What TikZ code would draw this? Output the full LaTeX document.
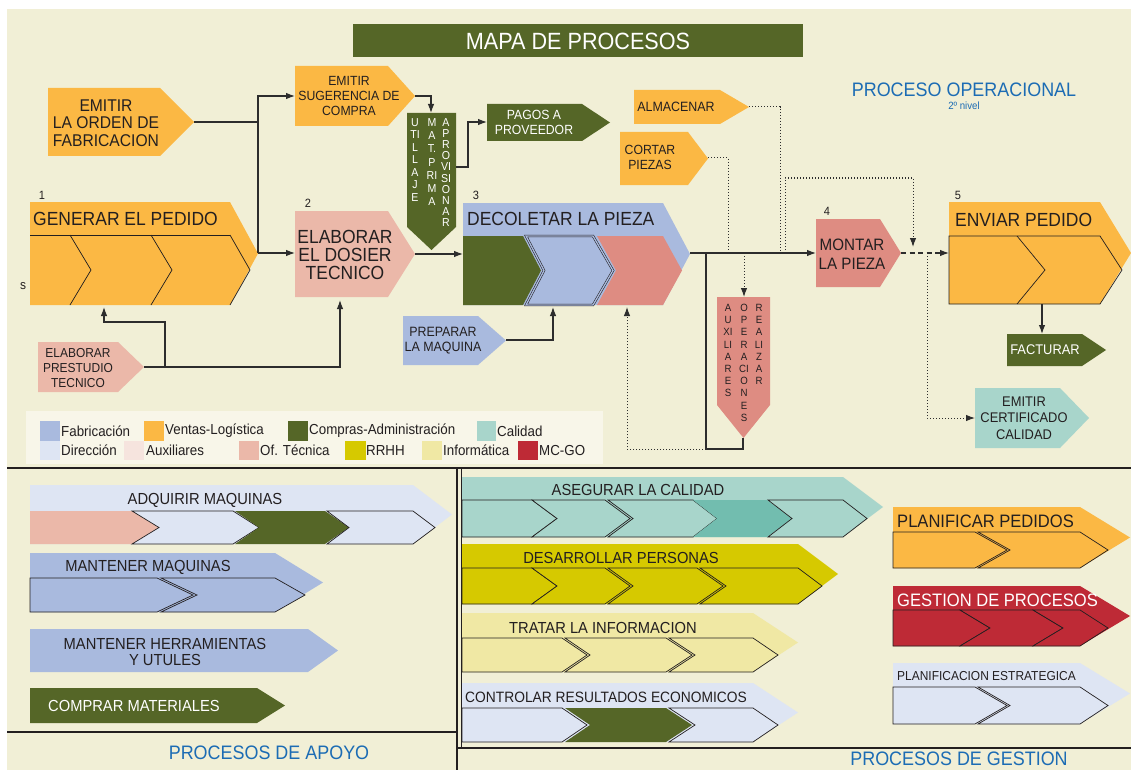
\documentclass[tikz,border=0pt]{standalone}
\usepackage{fontspec}
\setmainfont{Liberation Sans}[FakeStretch=0.92]
\usetikzlibrary{arrows.meta}
\definecolor{bgc}{RGB}{241,239,214}
\definecolor{legbg}{RGB}{248,246,233}
\definecolor{ventas}{RGB}{251,184,68}
\definecolor{fabr}{RGB}{169,186,222}
\definecolor{compras}{RGB}{85,102,39}
\definecolor{calidad}{RGB}{168,213,203}
\definecolor{calidadd}{RGB}{114,189,175}
\definecolor{direc}{RGB}{222,229,243}
\definecolor{auxil}{RGB}{246,228,222}
\definecolor{oftec}{RGB}{235,184,169}
\definecolor{rrhh}{RGB}{214,201,0}
\definecolor{infor}{RGB}{240,232,164}
\definecolor{mcgo}{RGB}{190,42,54}
\definecolor{salmon}{RGB}{222,140,130}
\definecolor{ink}{RGB}{35,31,32}
\definecolor{bluet}{RGB}{28,108,180}
\definecolor{lineC}{RGB}{45,45,45}
\newcommand\pent[6]{\fill[#1] (#2,#3) -- (#4,#3) -- (#5,{(#3+#6)/2}) -- (#4,#6) -- (#2,#6) -- cycle;}
\newcommand\chev[7]{\path[#1] (#2,#5) -- (#3,#5) -- (#4,{(#5+#6)/2}) -- (#3,#6) -- (#2,#6) -- (#7,{(#5+#6)/2}) -- cycle;}
\tikzset{
  conn/.style={draw=lineC, line width=1.1pt},
  arr/.style={-{Latex[length=9pt,width=6.5pt]}},
  dots/.style={draw=lineC, line width=1pt, dash pattern=on 1.4pt off 1.6pt},
  dashs/.style={draw=lineC, line width=1.1pt, dash pattern=on 5pt off 3.5pt},
  ol/.style={draw=ink, line width=0.7pt},
  dbl/.style={draw=ink, line width=0.55pt, double=#1, double distance=1.3pt},
  txt/.style 2 args={font=\fontsize{#1}{#2}\selectfont, text=ink, align=center, inner sep=0pt},
  leg/.style={font=\fontsize{14.5}{15}\selectfont, text=ink, anchor=west, inner sep=0pt},
  frame/.style={draw=ink, line width=2pt},
}
\begin{document}
\begin{tikzpicture}[x=1pt,y=-1pt]
\useasboundingbox (0,0) rectangle (1131,770);
\fill[white] (0,0) rectangle (1131,770);
\fill[bgc] (7,9) rectangle (1131,770);

% title
\fill[compras] (353,24) rectangle (803,57);
\node[txt={23.5}{24}, text=white] (title) at (578,41) {MAPA DE PROCESOS};
\node[txt={19.5}{20}, text=bluet] (procop) at (964,90) {PROCESO OPERACIONAL};
\node[txt={10.5}{11}, text=bluet] (nivel) at (964,106) {2º nivel};

% ---------- operational shapes
\pent{ventas}{48}{88}{160}{194}{156}
\node[txt={17}{17.5}] (orden) at (106,123) {EMITIR\\LA ORDEN DE\\FABRICACION};
\pent{ventas}{295}{66}{388}{415}{126}
\node[txt={13.3}{15}] (sug) at (349,96) {EMITIR\\SUGERENCIA DE\\COMPRA};
\fill[compras] (407,113) -- (456,113) -- (456,227) -- (431.5,250) -- (407,227) -- cycle;
\node[txt={11.5}{12.5}, text=white, anchor=north] (utA) at (415,118) {U\\TI\\L\\L\\A\\J\\E};
\node[txt={11.5}{13.3}, text=white, anchor=north] (utB) at (432,118) {M\\A\\T.\\P\\RI\\M\\A};
\node[txt={11.5}{11.2}, text=white, anchor=north] (utC) at (446,118) {A\\P\\R\\O\\VI\\SI\\O\\N\\A\\R};
\pent{compras}{487}{104}{582}{610}{141}
\node[txt={13.3}{15}, text=white] (pagos) at (534,122) {PAGOS A\\PROVEEDOR};
\pent{ventas}{634}{90}{720}{749}{124}
\node[txt={13.5}{15}] (alm) at (676,107) {ALMACENAR};
\pent{ventas}{620}{132}{688}{708}{185}
\node[txt={13.3}{15}] (cortar) at (650,157) {CORTAR\\PIEZAS};

% 1 generar
\node[txt={12}{12}] (n1) at (42,195) {1};
\pent{ventas}{30}{202}{230}{258}{305}
\draw[ol] (30,235) -- (230,235);
\draw[ol] (70,235) -- (91,270) -- (70,305);
\draw[ol] (151,235) -- (172,270) -- (151,305);
\draw[ol] (230,235) -- (250,270) -- (230,305);
\node[txt={19}{20}, anchor=west] (gen) at (33,219) {GENERAR EL PEDIDO};
\node[txt={13}{13}] (s) at (23,286) {s};

% 2 dosier
\node[txt={12}{12}] (n2) at (308,203) {2};
\pent{oftec}{295}{211}{388}{415}{297}
\node[txt={19}{18}] (dosier) at (345,255) {ELABORAR\\EL DOSIER\\TECNICO};
\pent{oftec}{38}{342}{118}{144}{392}
\node[txt={13}{15}] (prest) at (78,368) {ELABORAR\\PRESTUDIO\\TECNICO};
\pent{fabr}{403}{316}{478}{506}{365}
\node[txt={13.5}{15}] (prep) at (443,341) {PREPARAR\\LA MAQUINA};

% 3 decoletar
\node[txt={12}{12}] (n3) at (476,195) {3};
\pent{fabr}{463}{203}{663}{690}{305}
\chev{fill=compras}{463}{523}{541}{236}{305}{463}
\chev{fill=fabr,dbl=fabr}{526}{593}{613}{236}{305}{544}
\chev{fill=salmon}{597}{663}{682}{236}{305}{616}
\node[txt={19}{20}, anchor=west] (dec) at (467,219) {DECOLETAR LA PIEZA};

% realizar
\fill[salmon] (717,297) -- (770,297) -- (770,405) -- (743.5,438) -- (717,405) -- cycle;
\node[txt={10.5}{12.2}, anchor=north] (raA) at (728,304) {A\\U\\XI\\LI\\A\\R\\E\\S};
\node[txt={10.5}{12.2}, anchor=north] (raB) at (744,304) {O\\P\\E\\R\\A\\CI\\O\\N\\E\\S};
\node[txt={10.5}{12.2}, anchor=north] (raC) at (759,304) {R\\E\\A\\LI\\Z\\A\\R};

% 4 montar
\node[txt={12}{12}] (n4) at (827,211) {4};
\pent{salmon}{816}{219}{880}{901}{287}
\node[txt={16.5}{19}] (montar) at (852,254) {MONTAR\\LA PIEZA};

% 5 enviar
\node[txt={12}{12}] (n5) at (958,195) {5};
\pent{ventas}{949}{202}{1100}{1131}{304}
\chev{ol}{949}{1100}{1122}{236}{304}{949}
\draw[ol] (1017,236) -- (1045,270) -- (1017,304);
\node[txt={19}{20}, anchor=west] (env) at (955,220) {ENVIAR PEDIDO};
\pent{compras}{1007}{334}{1082}{1106}{366}
\node[txt={14}{15}, text=white] (fact) at (1045,350) {FACTURAR};
\pent{calidad}{975}{388}{1060}{1089}{448}
\node[txt={14}{16.5}] (cert) at (1024,418) {EMITIR\\CERTIFICADO\\CALIDAD};

% ---------- connector points
\coordinate (ordenTip) at (194,122);
\coordinate (jMid) at (258,122);
\coordinate (jTop) at (258,96);
\coordinate (genTip) at (258,253);
\coordinate (sugW) at (295,96);
\coordinate (dosW) at (295,253);
\coordinate (sugTip) at (415,96);
\coordinate (utilN) at (431,113);
\coordinate (utilE) at (456,167);
\coordinate (pagW) at (487,122);
\coordinate (dosTip) at (415,254);
\coordinate (decW) at (463,254);
\coordinate (preTip) at (144,367);
\coordinate (preJ) at (165,367);
\coordinate (dosS) at (340,300);
\coordinate (genS) at (104,307);
\coordinate (prepTip) at (506,340);
\coordinate (decS1) at (553,307);
\coordinate (decTip) at (690,253);
\coordinate (monW) at (816,253);
\coordinate (brA) at (706,253);
\coordinate (brB) at (706,449);
\coordinate (realS) at (743,438);
\coordinate (auxJ) at (744,253);
\coordinate (realN) at (744,297);
\coordinate (decS2) at (627,307);
\coordinate (almTip) at (749,107);
\coordinate (almJ) at (780,253);
\coordinate (corTip) at (708,158);
\coordinate (corJ) at (728,253);
\coordinate (loopJ) at (785,253);
\coordinate (loopT) at (913,247);
\coordinate (monTip) at (901,253);
\coordinate (envW) at (949,253);
\coordinate (certJ) at (927,253);
\coordinate (certW) at (975,418);
\coordinate (envS) at (1042,304);
\coordinate (facN) at (1042,334);

\draw[conn] (ordenTip) -- (jMid);
\draw[conn,arr] (genTip) -- (jTop) -- (sugW);
\draw[conn,arr] (genTip) -- (dosW);
\draw[conn,arr] (sugTip) -| (utilN);
\draw[conn,arr] (utilE) -- ++(12,0) |- (pagW);
\draw[conn,arr] (dosTip) -- (decW);
\draw[conn,arr] (preTip) -| (dosS);
\draw[conn,arr] (preJ) -- ++(0,-45) -| (genS);
\draw[conn,arr] (prepTip) -| (decS1);
\draw[conn,arr] (decTip) -- (monW);
\draw[conn] (brA) -- (brB) -| (realS);
\draw[dots,arr] (brB) -| (decS2);
\draw[dots,arr] (auxJ) -- (realN);
\draw[dots] (almTip) -| (almJ);
\draw[dots] (corTip) -| (corJ);
\draw[dots,arr] (loopJ) -- ++(0,-75) -| (loopT);
\draw[dashs,arr] (monTip) -- (envW);
\draw[dots,arr] (certJ) |- (certW);
\draw[conn,arr] (envS) -- (facN);

% ---------- legend
\fill[legbg] (26,411) rectangle (603,464);
\fill[fabr] (40,421) rectangle (60,441);   \node[leg] (lg1) at (61,431) {Fabricación};
\fill[ventas] (144,421) rectangle (164,441); \node[leg] (lg2) at (165,431) {Ventas-Logística};
\fill[compras] (288,421) rectangle (308,441); \node[leg] (lg3) at (309,431) {Compras-Administración};
\fill[calidad] (477,421) rectangle (496,441); \node[leg] (lg4) at (497,431) {Calidad};
\fill[direc] (40,441) rectangle (60,460);   \node[leg] (lg5) at (61,450.5) {Dirección};
\fill[auxil] (124,441) rectangle (144,460); \node[leg] (lg6) at (146,450.5) {Auxiliares};
\fill[oftec] (239,441) rectangle (259,460); \node[leg] (lg7) at (260,450.5) {Of. Técnica};
\fill[rrhh] (345,441) rectangle (366,460); \node[leg] (lg8) at (366,450.5) {RRHH};
\fill[infor] (422,441) rectangle (442,460); \node[leg] (lg9) at (443,450.5) {Informática};
\fill[mcgo] (518,441) rectangle (538,460); \node[leg] (lg10) at (539,450.5) {MC-GO};

% ---------- frames
\draw[frame] (7,468) -- (1131,468);
\draw[frame] (457,468) -- (457,770);
\draw[frame] (7,732) -- (457,732);
\draw[frame] (457,748) -- (1131,748);
\draw[draw=ink, line width=0.8pt] (461,469) -- (461,747);

% ---------- apoyo
\pent{direc}{30}{485}{413}{452}{544}
\chev{fill=oftec}{30}{132}{159}{511}{544}{30}
\chev{fill=direc,ol}{132}{233}{259}{511}{544}{159}
\chev{fill=compras}{235}{325}{349}{511}{544}{259}
\chev{fill=direc,ol}{327}{413}{435}{511}{544}{349}
\node[txt={16}{16}] (adq) at (205,500) {ADQUIRIR MAQUINAS};

\pent{fabr}{30}{553}{275}{323}{612}
\chev{fill=fabr,ol}{30}{157}{193}{578}{612}{30}
\chev{fill=fabr,ol}{161}{275}{305}{578}{612}{197}
\node[txt={16}{16}] (mmaq) at (148,567) {MANTENER MAQUINAS};

\pent{fabr}{30}{629}{308}{338}{672}
\node[txt={16}{16}] (mher) at (165,652) {MANTENER HERRAMIENTAS\\Y UTULES};

\pent{compras}{30}{688}{257}{285}{723}
\node[txt={16}{16}, text=white, anchor=west] (comp) at (48,706) {COMPRAR MATERIALES};

\node[txt={19.5}{20}, text=bluet] (apoyo) at (269,753) {PROCESOS DE APOYO};

% ---------- gestion
\pent{calidad}{462}{477}{843}{883}{537}
\chev{fill=calidad,ol}{462}{532}{557}{500}{537}{462}
\chev{fill=calidad,ol}{532}{605}{630}{500}{537}{557}
\chev{fill=calidad,ol}{608}{693}{717}{500}{537}{633}
\chev{fill=calidadd}{693}{767}{792}{500}{537}{717}
\chev{fill=calidad,ol}{768}{843}{867}{500}{537}{792}
\node[txt={16}{16}] (aseg) at (638,490) {ASEGURAR LA CALIDAD};

\pent{rrhh}{462}{544}{798}{838}{604}
\chev{fill=rrhh,ol}{462}{532}{557}{568}{604}{462}
\chev{fill=rrhh,ol}{532}{605}{630}{568}{604}{557}
\chev{fill=rrhh,ol}{608}{697}{723}{568}{604}{633}
\chev{fill=rrhh,ol}{700}{798}{822}{568}{604}{726}
\node[txt={16}{16}] (desa) at (621,558) {DESARROLLAR PERSONAS};

\pent{infor}{462}{613}{753}{798}{672}
\chev{fill=infor,ol}{462}{562}{587}{638}{672}{462}
\chev{fill=infor,ol}{565}{666}{692}{638}{672}{590}
\chev{fill=infor,ol}{669}{753}{778}{638}{672}{695}
\node[txt={16}{16}] (trat) at (603,628) {TRATAR LA INFORMACION};

\pent{direc}{462}{683}{753}{798}{742}
\chev{fill=direc,ol}{462}{562}{587}{708}{742}{462}
\chev{fill=compras}{565}{666}{692}{708}{742}{590}
\chev{fill=direc,ol}{669}{753}{778}{708}{742}{695}
\node[txt={15}{15}, anchor=west] (ctrl) at (465,697) {CONTROLAR RESULTADOS ECONOMICOS};

\pent{ventas}{893}{507}{1080}{1130}{568}
\chev{fill=ventas,ol}{893}{975}{1007}{532}{568}{893}
\chev{fill=ventas,ol}{978}{1080}{1108}{532}{568}{1010}
\node[txt={18}{18}, anchor=west] (plped) at (897,521) {PLANIFICAR PEDIDOS};

\pent{mcgo}{893}{586}{1080}{1130}{646}
\chev{fill=mcgo,ol}{893}{960}{990}{610}{646}{893}
\chev{fill=mcgo,ol}{960}{1033}{1063}{610}{646}{990}
\chev{fill=mcgo,ol}{1033}{1080}{1108}{610}{646}{1063}
\node[txt={18}{18}, text=white, anchor=west] (gest) at (897,600) {GESTION DE PROCESOS};

\pent{direc}{893}{663}{1080}{1130}{724}
\chev{fill=direc,ol}{893}{975}{1007}{687}{724}{893}
\chev{fill=direc,ol}{978}{1080}{1108}{687}{724}{1010}
\node[txt={13}{13}, anchor=west] (plest) at (897,676) {PLANIFICACION ESTRATEGICA};

\node[txt={19.5}{20}, text=bluet] (gestion) at (959,759) {PROCESOS DE GESTION};
\end{tikzpicture}
\end{document}
